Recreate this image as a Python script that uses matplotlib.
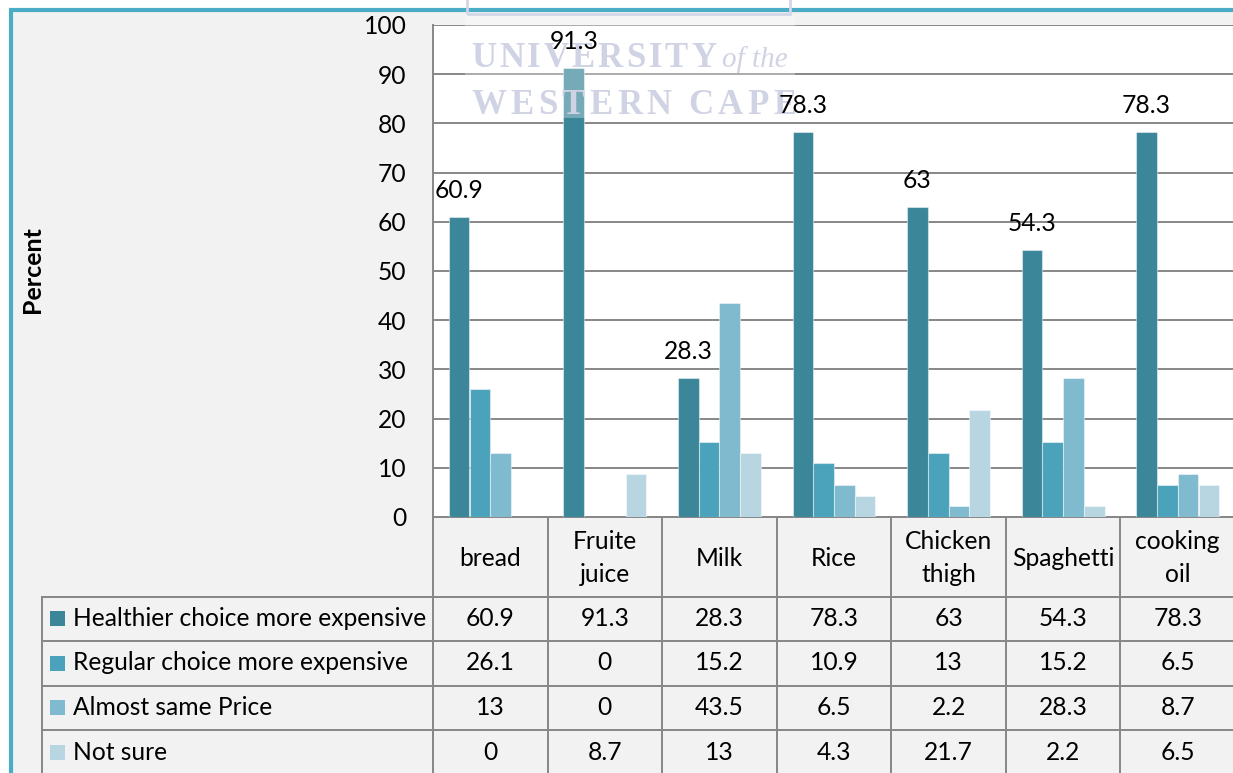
import numpy as np
import matplotlib
matplotlib.use('Agg')
import matplotlib.pyplot as plt
from matplotlib.patches import Rectangle

plt.rcParams['font.family'] = ['Lato', 'DejaVu Sans']

# data
categories = ['bread', 'Fruite\njuice', 'Milk', 'Rice', 'Chicken\nthigh', 'Spaghetti', 'cooking\noil']
series_names = ['Healthier choice more expensive', 'Regular choice more expensive',
                'Almost same Price', 'Not sure']
healthier = [60.9, 91.3, 28.3, 78.3, 63, 54.3, 78.3]
regular = [26.1, 0, 15.2, 10.9, 13, 15.2, 6.5]
same_price = [13, 0, 43.5, 6.5, 2.2, 28.3, 8.7]
not_sure = [0, 8.7, 13, 4.3, 21.7, 2.2, 6.5]
yticks = list(range(0, 101, 10))

colors = ['#3B8699', '#4AA3BB', '#7FBACF', '#B7D6E1']
grid_c = '#878787'
FS = 17.7

W, H = 1233, 773
fig = plt.figure(figsize=(W / 100, H / 100), dpi=100, facecolor='white')


def box(x0, y0, x1, y1):
    # pixel box measured from the top-left corner -> figure fractions
    return [x0 / W, 1 - y1 / H, (x1 - x0) / W, (y1 - y0) / H]


# grey chart area with teal border
fig.add_artist(Rectangle((10.5 / W, -0.05), 1.2, 1.05 - 10.5 / H, transform=fig.transFigure,
                         facecolor='#f2f2f2', edgecolor='#4bacc6', lw=3, zorder=-1))

# ---- bar plot ----
ax = fig.add_axes(box(433, 25, 1235, 517))
ax.set_facecolor('white')
x = np.arange(len(categories))
all_series = [healthier, regular, same_price, not_sure]
bw = 0.181
for i, vals in enumerate(all_series):
    ax.bar(x + (i - 1.5) * bw, vals, width=0.18, color=colors[i],
           edgecolor=(1, 1, 1, 0.45), linewidth=0.8, zorder=3)

for xi, v in zip(x, healthier):
    ax.annotate(f'{v:g}', (xi - 1.5 * bw, v), xytext=(0, 19), textcoords='offset points',
                ha='center', va='center', fontsize=FS, zorder=6)

ax.set_xlim(-0.5, 6.5)
ax.set_ylim(0, 100)
ax.set_yticks(yticks)
ax.set_xticks([])
ax.tick_params(axis='y', length=0, pad=19, labelsize=FS)
ax.yaxis.grid(True, color=grid_c, lw=1.4, zorder=1)
ax.set_axisbelow(True)
for s in ['top', 'right']:
    ax.spines[s].set_visible(False)
for s in ['left', 'bottom']:
    ax.spines[s].set_color(grid_c)
    ax.spines[s].set_linewidth(1.4)

fig.text(33 / W, 1 - 270 / H, 'Percent', rotation=90, fontweight='bold', fontsize=18,
         ha='center', va='center')

# watermark
ax.add_patch(Rectangle((465 / W, 1 - 118 / H), 330 / W, 103 / H, transform=fig.transFigure,
                       facecolor='white', alpha=0.3, lw=0, clip_on=False, zorder=4))
ax.add_patch(Rectangle((467 / W, 1 - 14 / H), 323 / W, 20 / H, transform=fig.transFigure,
                       facecolor='none', edgecolor='#d3d6e6', lw=2, clip_on=False, zorder=4))
wm = dict(transform=fig.transFigure, color='#d0d3e3', family='Liberation Serif',
          fontweight='bold', va='baseline', zorder=4, clip_on=False)
renderer = fig.canvas.get_renderer()


def spaced(word, x0, y0, gap, space=14, **kw):
    # lay out letters one by one with extra tracking
    xp = x0
    for ch in word:
        if ch == ' ':
            xp += space
            continue
        t = ax.text(xp / W, 1 - y0 / H, ch, **wm, **kw)
        xp += t.get_window_extent(renderer).width + gap
    return xp


end = spaced('UNIVERSITY', 471, 67, 3, fontsize=25)
ax.text((end + 3) / W, 1 - 67 / H, 'of the', fontsize=21, style='italic',
        **{k: v for k, v in wm.items() if k != 'fontweight'})
spaced('WESTERN CAPE', 471, 114, 4.5, space=12, fontsize=25)

# ---- data table ----
tax = fig.add_axes(box(42, 517, 1235, 773))
cw = (1235 - 433) / 7
xmin = -0.5 - (433 - 42) / cw
tax.set_xlim(xmin, 6.5)
tax.set_ylim(256, 0)
tax.axis('off')

lk = dict(color=grid_c, lw=1.4, clip_on=False)
for k in range(len(categories) + 1):
    tax.plot([k - 0.5, k - 0.5], [0, 256], **lk)
tax.plot([xmin, xmin], [79.5, 256], **lk)
row_lines = [79.5, 124, 168.5, 213]
for y in row_lines:
    tax.plot([xmin, 6.5], [y, y], **lk)

for k, c in enumerate(categories):
    tax.text(k, 41, c, ha='center', va='center', fontsize=FS, linespacing=1.55)

row_y = [101.5, 146, 190.5, 235]
for r, (name, vals) in enumerate(zip(series_names, all_series)):
    y = row_y[r]
    tax.add_patch(Rectangle((xmin + 8 / cw, y - 7.5), 15 / cw, 15, facecolor=colors[r],
                            lw=0, clip_on=False))
    tax.text(xmin + 31 / cw, y, name, ha='left', va='center', fontsize=FS)
    for k, v in enumerate(vals):
        tax.text(k, y, f'{v:g}', ha='center', va='center', fontsize=FS)

fig.savefig('out.png', dpi=100)
